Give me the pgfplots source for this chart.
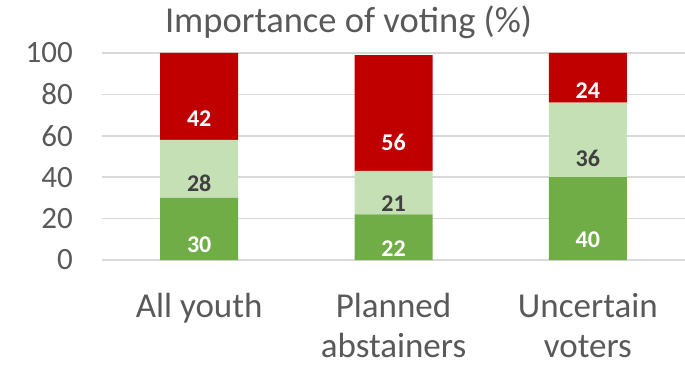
\documentclass[border=0pt]{standalone}
\usepackage{pgfplots}
\pgfplotsset{compat=1.18}
\usepackage{pgfplotstable}
\usepackage{fontspec}
\setmainfont{Carlito}
\definecolor{dgreen}{HTML}{70AD47}
\definecolor{lgreen}{HTML}{C5E0B4}
\definecolor{dred}{HTML}{C00000}
\definecolor{txt}{HTML}{595959}
\definecolor{lbl}{HTML}{404040}
\definecolor{gridc}{HTML}{D9D9D9}
\pgfplotstableread{
x y
0 30
1 22
2 40
}\low
\pgfplotstableread{
x y
0 28
1 21
2 36
}\mid
\pgfplotstableread{
x y
0 42
1 56
2 24
}\high
\begin{document}
\begin{tikzpicture}
\path[use as bounding box] (-102pt,-109pt) rectangle (583pt,260pt);
\begin{axis}[
  at={(0pt,0pt)}, anchor=south west,
  scale only axis, width=583pt, height=207pt,
  ybar stacked, bar width=78pt,
  xmin=-0.5, xmax=2.5, ymin=0, ymax=100,
  ytick={0,20,...,100},
  xtick={0,1,2},
  xticklabels={\strut All youth, \strut Planned\\\strut abstainers, \strut Uncertain\\\strut voters},
  xticklabel style={align=center, font=\fontsize{35}{40}\selectfont, text=txt, anchor=north, inner sep=0pt, yshift=-29pt},
  yticklabel style={font=\fontsize{31}{36}\selectfont, text=txt, anchor=east, inner sep=0pt, xshift=-29pt},
  /pgf/number format/assume math mode=true,
  axis line style={draw=none}, major tick style={draw=none},
  ymajorgrids, grid style={draw=gridc, line width=1.5pt},
  point meta=explicit,
  visualization depends on={\thisrow{y} \as \segval},
  nodes near coords,
  every node near coord/.append style={anchor=center, font=\fontsize{24}{28}\selectfont\bfseries,
    shift={(axis direction cs:0,-\segval/4)}},
]
\addplot[fill=dgreen, draw=none, nodes near coords style={text=white}] table[x=x, y=y, meta=y] {\low};
\addplot[fill=lgreen, draw=none, nodes near coords style={text=lbl}] table[x=x, y=y, meta=y] {\mid};
\addplot[fill=dred, draw=none, nodes near coords style={text=white}] table[x=x, y=y, meta=y] {\high};
\end{axis}
\node[anchor=base, font=\fontsize{36.5}{42}\selectfont, text=txt] at (246.5pt,227pt) {Importance of voting (\%)};
\end{tikzpicture}
\end{document}
